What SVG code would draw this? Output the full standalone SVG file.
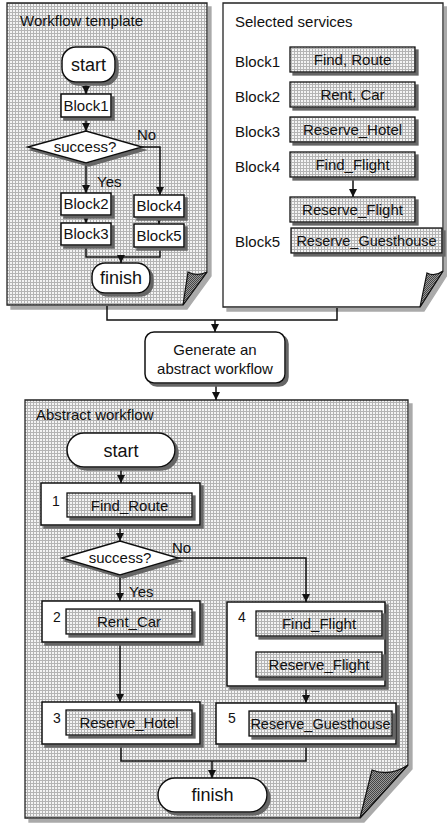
<svg xmlns="http://www.w3.org/2000/svg" width="447" height="825" viewBox="0 0 447 825">
  <defs>
    <!-- halftone screen used for panel and service-box backgrounds -->
    <pattern id="ht" width="3" height="3" patternUnits="userSpaceOnUse">
      <rect width="3" height="3" fill="#f4f4f4"/>
      <rect width="3" height="1" fill="#b4b4b4"/>
      <rect width="1" height="3" fill="#b4b4b4"/>
    </pattern>
    <pattern id="hd" width="2" height="2" patternUnits="userSpaceOnUse">
      <rect width="2" height="2" fill="#9a9a9a"/>
      <rect width="1" height="1" fill="#444"/>
      <rect x="1" y="1" width="1" height="1" fill="#444"/>
    </pattern>
    <filter id="sh" x="-10%" y="-10%" width="130%" height="140%">
      <feFlood flood-color="#666"/>
      <feComposite in2="SourceAlpha" operator="in"/>
      <feOffset dx="3" dy="3" result="s"/>
      <feMerge><feMergeNode in="s"/><feMergeNode in="SourceGraphic"/></feMerge>
    </filter>
    <filter id="psh" x="-5%" y="-5%" width="115%" height="115%">
      <feFlood flood-color="#aaa"/>
      <feComposite in2="SourceAlpha" operator="in"/>
      <feOffset dx="4" dy="4" result="s"/>
      <feMerge><feMergeNode in="s"/><feMergeNode in="SourceGraphic"/></feMerge>
    </filter>
    <marker id="ah" viewBox="0 0 8 8" refX="8" refY="4" markerWidth="8" markerHeight="8" markerUnits="userSpaceOnUse" orient="auto">
      <path d="M0,0 L8,4 L0,8 Z" fill="#111"/>
    </marker>
  </defs>
  <style>
    text { font-family: "Liberation Sans", Arial, sans-serif; fill: #111; }
    .t15 { font-size: 15px; }
    .t14 { font-size: 14px; }
    .t18 { font-size: 18px; }
    .mid { text-anchor: middle; }
    .box { fill: #fff; stroke: #111; stroke-width: 1.5; }
    .svc { fill: url(#ht); stroke: #111; stroke-width: 1.3; }
    .panel { fill: url(#ht); stroke: #222; stroke-width: 1.3; }
    .flap { fill: url(#hd); stroke: #111; stroke-width: 1.2; }
    .edge { fill: none; stroke: #111; stroke-width: 1.5; }
    .arrow { marker-end: url(#ah); }
  </style>

  <!-- panel: workflow template -->
  <g id="panel-template">
    <path class="panel" filter="url(#psh)" d="M7,3 H207 V272 L183,305 H7 Z"/>
    <path class="flap" d="M207,272 Q197,277 188,272 L183,305 Z"/>
    <text class="t15" x="20" y="26">Workflow template</text>
  </g>

  <!-- panel: selected services -->
  <g id="panel-services">
    <path fill="#fff" stroke="#222" stroke-width="1.3" filter="url(#psh)" d="M223,3 H443 V271 L420,307 H223 Z"/>
    <path class="flap" d="M443,271 Q435,277 427,273 L420,307 Z"/>
    <text class="t15" x="235" y="27">Selected services</text>
  </g>

  <!-- panel: abstract workflow -->
  <g id="panel-abstract">
    <path class="panel" filter="url(#psh)" d="M25,400 H408 V765 L360,818 H25 Z"/>
    <path class="flap" d="M408,765 Q390,777 372,770 L360,818 Z"/>
    <text class="t15" x="36" y="420">Abstract workflow</text>
  </g>

  <!-- connectors -->
  <g id="connectors">
    <!-- template flow -->
    <path class="edge arrow" d="M86,82 V94"/>
    <path class="edge arrow" d="M86,117 V131"/>
    <path class="edge arrow" d="M86,163 V193"/>
    <path class="edge arrow" d="M142,147 H160 V195"/>
    <path class="edge arrow" d="M86,215 V223"/>
    <path class="edge arrow" d="M159,217 V224"/>
    <path class="edge" d="M86,245 V257 H160 V247"/>
    <path class="edge arrow" d="M121,257 V263"/>
    <!-- services -->
    <path class="edge arrow" d="M353,177 V197"/>
    <!-- panels into generator -->
    <path class="edge" d="M107,306 V320 H337 V308"/>
    <path class="edge arrow" d="M215,320 V332"/>
    <path class="edge arrow" d="M216,383 V400"/>
    <!-- abstract flow -->
    <path class="edge arrow" d="M121,467 V483"/>
    <path class="edge arrow" d="M120,525 V541"/>
    <path class="edge arrow" d="M120,575 V601"/>
    <path class="edge arrow" d="M178,558 H306 V602"/>
    <path class="edge arrow" d="M120,642 V702"/>
    <path class="edge arrow" d="M319,636 V652"/>
    <path class="edge arrow" d="M306,686 V703"/>
    <path class="edge" d="M121,744 V761 H306 V744"/>
    <path class="edge arrow" d="M212,761 V778"/>
  </g>

  <!-- template nodes -->
  <g id="t-start">
    <rect class="box" filter="url(#sh)" x="62" y="47" width="53" height="35" rx="14"/>
    <text class="t18 mid" x="88.5" y="71">start</text>
  </g>
  <g id="t-block1">
    <rect class="box" filter="url(#sh)" x="61" y="94" width="50" height="23"/>
    <text class="t15 mid" x="86" y="111">Block1</text>
  </g>
  <g id="t-decision">
    <polygon class="box" filter="url(#sh)" points="28,147 86,131 142,147 86,163"/>
    <text class="t15 mid" x="85" y="152">success?</text>
    <text class="t15" x="137" y="140">No</text>
    <text class="t15" x="97" y="187">Yes</text>
  </g>
  <g id="t-block2">
    <rect class="box" filter="url(#sh)" x="61" y="193" width="50" height="22"/>
    <text class="t15 mid" x="86" y="209">Block2</text>
  </g>
  <g id="t-block3">
    <rect class="box" filter="url(#sh)" x="61" y="223" width="50" height="22"/>
    <text class="t15 mid" x="86" y="239">Block3</text>
  </g>
  <g id="t-block4">
    <rect class="box" filter="url(#sh)" x="134" y="195" width="50" height="22"/>
    <text class="t15 mid" x="159" y="211">Block4</text>
  </g>
  <g id="t-block5">
    <rect class="box" filter="url(#sh)" x="134" y="224" width="50" height="23"/>
    <text class="t15 mid" x="159" y="241">Block5</text>
  </g>
  <g id="t-finish">
    <rect class="box" filter="url(#sh)" x="92" y="263" width="58" height="30" rx="13"/>
    <text class="t18 mid" x="121" y="284">finish</text>
  </g>

  <!-- selected services -->
  <g id="s-block1">
    <text class="t15" x="235" y="67">Block1</text>
    <rect class="svc" filter="url(#sh)" x="290" y="47" width="125" height="25"/>
    <text class="t15 mid" x="352.5" y="65">Find, Route</text>
  </g>
  <g id="s-block2">
    <text class="t15" x="235" y="102">Block2</text>
    <rect class="svc" filter="url(#sh)" x="290" y="82" width="125" height="25"/>
    <text class="t15 mid" x="352.5" y="100">Rent, Car</text>
  </g>
  <g id="s-block3">
    <text class="t15" x="235" y="137">Block3</text>
    <rect class="svc" filter="url(#sh)" x="290" y="117" width="125" height="25"/>
    <text class="t15 mid" x="352.5" y="135">Reserve_Hotel</text>
  </g>
  <g id="s-block4">
    <text class="t15" x="235" y="172">Block4</text>
    <rect class="svc" filter="url(#sh)" x="290" y="152" width="125" height="25"/>
    <text class="t15 mid" x="352.5" y="170">Find_Flight</text>
    <rect class="svc" filter="url(#sh)" x="290" y="197" width="125" height="25"/>
    <text class="t15 mid" x="352.5" y="215">Reserve_Flight</text>
  </g>
  <g id="s-block5">
    <text class="t15" x="235" y="247">Block5</text>
    <rect class="svc" filter="url(#sh)" x="291" y="228" width="151" height="25"/>
    <text class="mid" font-size="14.5" x="366.5" y="246">Reserve_Guesthouse</text>
  </g>

  <!-- generator step -->
  <g id="generate">
    <rect class="box" filter="url(#sh)" x="145" y="332" width="140" height="51" rx="9"/>
    <text class="t15 mid" x="215" y="355">Generate an</text>
    <text class="t15 mid" x="215" y="374">abstract workflow</text>
  </g>

  <!-- abstract workflow nodes -->
  <g id="a-start">
    <rect class="box" filter="url(#sh)" x="67" y="433" width="108" height="34" rx="17"/>
    <text class="t18 mid" x="121" y="457">start</text>
  </g>
  <g id="a-step1">
    <rect class="box" filter="url(#sh)" x="41" y="483" width="159" height="42"/>
    <text class="t14" x="52" y="506">1</text>
    <rect class="svc" filter="url(#sh)" x="67" y="493" width="125" height="24"/>
    <text class="t15 mid" x="129.5" y="511">Find_Route</text>
  </g>
  <g id="a-decision">
    <polygon class="box" filter="url(#sh)" points="62,558 120,541 178,558 120,575"/>
    <text class="t15 mid" x="120" y="563">success?</text>
    <text class="t15" x="172" y="553">No</text>
    <text class="t15" x="129" y="597">Yes</text>
  </g>
  <g id="a-step2">
    <rect class="box" filter="url(#sh)" x="42" y="601" width="158" height="41"/>
    <text class="t14" x="53" y="622">2</text>
    <rect class="svc" filter="url(#sh)" x="66" y="609" width="126" height="25"/>
    <text class="t15 mid" x="129" y="627">Rent_Car</text>
  </g>
  <g id="a-step3">
    <rect class="box" filter="url(#sh)" x="42" y="702" width="158" height="42"/>
    <text class="t14" x="53" y="723">3</text>
    <rect class="svc" filter="url(#sh)" x="66" y="710" width="126" height="25"/>
    <text class="t15 mid" x="129" y="728">Reserve_Hotel</text>
  </g>
  <g id="a-step4">
    <rect class="box" filter="url(#sh)" x="227" y="602" width="158" height="84"/>
    <text class="t14" x="238" y="622">4</text>
    <rect class="svc" filter="url(#sh)" x="256" y="611" width="126" height="25"/>
    <text class="t15 mid" x="319" y="629">Find_Flight</text>
    <rect class="svc" filter="url(#sh)" x="256" y="652" width="126" height="25"/>
    <text class="t15 mid" x="319" y="670">Reserve_Flight</text>
  </g>
  <g id="a-step5">
    <rect class="box" filter="url(#sh)" x="216" y="703" width="180" height="41"/>
    <text class="t14" x="228" y="723">5</text>
    <rect class="svc" filter="url(#sh)" x="249" y="711" width="143" height="25"/>
    <text class="mid" font-size="14.5" x="320.5" y="729">Reserve_Guesthouse</text>
  </g>
  <g id="a-finish">
    <rect class="box" filter="url(#sh)" x="158" y="778" width="109" height="34" rx="17"/>
    <text class="t18 mid" x="212.5" y="801">finish</text>
  </g>
</svg>
